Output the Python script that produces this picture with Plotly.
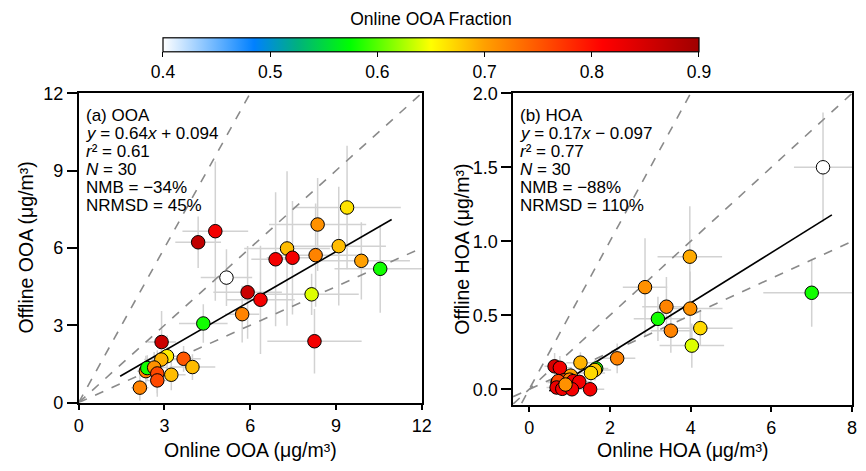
import plotly.graph_objects as go

# ---------------- data ----------------
# (a) OOA: online vs offline concentrations (ug/m3), uncertainties and online OOA fraction
ooa_online = [4.78, 4.18, 5.17, 4.36, 2.90, 3.09, 2.89, 3.67, 3.98, 2.35,
              2.40, 2.64, 2.75, 3.24, 2.75, 2.14, 9.39, 8.36, 7.29, 9.10,
              6.89, 7.48, 8.29, 9.89, 10.55, 5.91, 6.36, 5.72, 8.15, 8.25]
ooa_offline = [6.65, 6.22, 4.85, 3.07, 2.35, 1.80, 1.67, 1.70, 1.38, 1.22,
               1.34, 1.36, 1.13, 1.08, 0.86, 0.58, 7.57, 6.91, 5.98, 6.07,
               5.56, 5.62, 5.72, 5.50, 5.19, 4.28, 3.99, 3.43, 4.20, 2.38]
ooa_online_err = [1.15, 0.80, 0.90, 0.85, 0.50, 0.40, 0.60, 0.60, 0.80, 0.30,
                  0.30, 0.50, 0.40, 0.50, 0.40, 0.30, 1.88, 1.70, 1.50, 1.65,
                  0.85, 0.90, 1.50, 1.70, 1.60, 1.20, 1.20, 0.60, 1.65, 1.65]
ooa_offline_err = [2.70, 1.00, 1.10, 0.75, 1.20, 0.80, 0.90, 0.50, 0.50, 0.60,
                   0.50, 0.60, 0.90, 0.60, 0.50, 0.50, 2.40, 1.80, 3.00, 2.30,
                   2.60, 2.20, 2.00, 1.50, 1.70, 1.80, 2.10, 1.10, 0.80, 1.25]
ooa_frac = [0.82, 0.87, 0.40, 0.58, 0.86, 0.66, 0.69, 0.75, 0.685, 0.72,
            0.58, 0.71, 0.76, 0.685, 0.76, 0.72, 0.665, 0.71, 0.685, 0.685,
            0.82, 0.82, 0.72, 0.70, 0.58, 0.86, 0.82, 0.72, 0.64, 0.82]

# (b) HOA
hoa_online = [7.28, 3.98, 2.87, 3.40, 3.99, 3.19, 3.51, 4.24, 4.03, 7.00,
              2.18, 0.63, 0.76, 1.27, 1.66, 1.63, 1.53, 1.03, 0.70, 0.86,
              0.95, 1.00, 0.72, 1.09, 1.24, 0.68, 0.82, 1.06, 1.51, 0.90]
hoa_offline = [1.50, 0.896, 0.69, 0.558, 0.545, 0.476, 0.396, 0.413, 0.295, 0.652,
               0.209, 0.155, 0.145, 0.18, 0.14, 0.13, 0.11, 0.092, 0.045, 0.06,
               0.05, 0.065, 0.055, 0.055, 0.05, 0.012, 0.003, 0.0, 0.0, 0.032]
hoa_online_err = [0.72, 0.80, 0.55, 0.60, 0.80, 0.60, 0.50, 0.80, 0.80, 1.20,
                  0.45, 0.25, 0.30, 0.35, 0.30, 0.40, 0.35, 0.30, 0.25, 0.30,
                  0.30, 0.30, 0.25, 0.35, 0.30, 0.25, 0.30, 0.30, 0.35, 0.30]
hoa_offline_err = [0.37, 0.34, 0.33, 0.20, 0.25, 0.15, 0.15, 0.12, 0.15, 0.23,
                   0.10, 0.09, 0.08, 0.07, 0.06, 0.07, 0.06, 0.06, 0.05, 0.05,
                   0.05, 0.06, 0.05, 0.06, 0.05, 0.05, 0.04, 0.04, 0.05, 0.05]
hoa_frac = [0.40, 0.695, 0.71, 0.72, 0.71, 0.58, 0.72, 0.67, 0.64, 0.58,
            0.72, 0.85, 0.82, 0.69, 0.58, 0.68, 0.67, 0.70, 0.76, 0.76,
            0.72, 0.72, 0.76, 0.82, 0.82, 0.83, 0.82, 0.82, 0.82, 0.71]

# fits and reference lines
fit_a = dict(slope=0.64, intercept=0.094, x=[1.45, 10.95])
fit_b = dict(slope=0.17, intercept=-0.097, x=[0.5, 7.5])
ref_slopes_a = [2.0, 1.0, 0.5]
ref_slopes_b = [0.5, 0.25, 0.125]

stats_a = ["(a) OOA", "<i>y</i> = 0.64<i>x</i> + 0.094", "<i>r</i>² = 0.61",
           "<i>N</i> = 30", "NMB = −34%", "NRMSD = 45%"]
stats_b = ["(b) HOA", "<i>y</i> = 0.17<i>x</i> − 0.097", "<i>r</i>² = 0.77",
           "<i>N</i> = 30", "NMB = −88%", "NRMSD = 110%"]

cbar_ticks = [0.4, 0.5, 0.6, 0.7, 0.8, 0.9]

# ---------------- styling ----------------
W, H = 866, 471
FONT = "Arial, Liberation Sans, sans-serif"
ERR_COLOR = "#d2d2d2"
colorscale = [
    [0.00, "#ffffff"],
    [0.17, "#0080ff"],
    [0.25, "#00b080"],
    [0.35, "#00ff00"],
    [0.50, "#ffff00"],
    [0.60, "#ffa000"],
    [0.82, "#ff0000"],
    [1.00, "#a00000"],
]


def px_x(p):
    return p / W


def px_y(p):
    return 1 - p / H


fig = go.Figure()


def add_panel(xs, ys, xerr, yerr, frac, fit, slopes, xref, yref, xlim):
    # uncertainty bars underneath everything else
    fig.add_trace(go.Scatter(
        x=xs, y=ys, mode="markers", xaxis=xref, yaxis=yref,
        marker=dict(size=1, opacity=0),
        error_x=dict(type="data", array=xerr, color=ERR_COLOR, thickness=1.5, width=0),
        error_y=dict(type="data", array=yerr, color=ERR_COLOR, thickness=1.5, width=0),
        hoverinfo="skip", showlegend=False))
    # reference ratio lines through the origin
    for s in slopes:
        fig.add_trace(go.Scatter(
            x=[xlim[0], xlim[1]], y=[s * xlim[0], s * xlim[1]], mode="lines",
            xaxis=xref, yaxis=yref,
            line=dict(color="#8a8a8a", width=1.6, dash="dash"),
            hoverinfo="skip", showlegend=False))
    # least-squares fit
    fx = fit["x"]
    fig.add_trace(go.Scatter(
        x=fx, y=[fit["slope"] * v + fit["intercept"] for v in fx], mode="lines",
        xaxis=xref, yaxis=yref, line=dict(color="black", width=1.6),
        hoverinfo="skip", showlegend=False))
    # samples coloured by online OOA fraction
    fig.add_trace(go.Scatter(
        x=xs, y=ys, mode="markers", xaxis=xref, yaxis=yref,
        marker=dict(size=13.5, color=frac, coloraxis="coloraxis",
                    line=dict(color="black", width=1)),
        showlegend=False))


add_panel(ooa_online, ooa_offline, ooa_online_err, ooa_offline_err, ooa_frac,
          fit_a, ref_slopes_a, "x", "y", (0, 12))
add_panel(hoa_online, hoa_offline, hoa_online_err, hoa_offline_err, hoa_frac,
          fit_b, ref_slopes_b, "x2", "y2", (-0.4, 8))

axis_common = dict(showline=True, mirror=True, linecolor="black", linewidth=1.5,
                   showgrid=False, zeroline=False, ticks="outside",
                   tickcolor="black", tickwidth=1.5,
                   tickfont=dict(family=FONT, size=18, color="black"))

fig.update_layout(
    width=W, height=H,
    margin=dict(l=0, r=0, t=0, b=0),
    paper_bgcolor="white", plot_bgcolor="white",
    font=dict(family=FONT, color="black"),
    xaxis=dict(domain=[px_x(75), px_x(424)], range=[0, 12],
               tickvals=[0, 3, 6, 9, 12], ticklen=6, anchor="y", **axis_common),
    yaxis=dict(domain=[px_y(410), px_y(87)], range=[0, 12],
               tickvals=[0, 3, 6, 9, 12], ticklen=10, anchor="x", **axis_common),
    xaxis2=dict(domain=[px_x(517), px_x(862)], range=[-0.4, 8],
                tickvals=[0, 2, 4, 6, 8], ticklen=6, anchor="y2", **axis_common),
    yaxis2=dict(domain=[px_y(412), px_y(87)], range=[-0.103, 2.0],
                tickvals=[0, 0.5, 1.0, 1.5, 2.0], tickformat=".1f",
                ticklen=10, anchor="x2", **axis_common),
    coloraxis=dict(
        colorscale=colorscale, cmin=0.4, cmax=0.9,
        colorbar=dict(
            orientation="h",
            x=px_x((164 + 703) / 2), xanchor="center",
            y=px_y(76), yanchor="bottom",
            len=545 / W, lenmode="fraction",
            thickness=13.5, thicknessmode="pixels",
            xpad=0, ypad=0,
            outlinewidth=1.2, outlinecolor="black",
            tickvals=cbar_ticks, tickformat=".1f",
            ticks="outside", ticklen=5, tickcolor="black", tickwidth=1.2,
            tickfont=dict(family=FONT, size=17.5, color="black"),
            title=dict(text="Online OOA Fraction", side="top",
                       font=dict(family=FONT, size=17.5, color="black")),
        ),
    ),
)

annotations = []
# statistics text blocks, one annotation per line for tight line spacing
line_y = [110.5, 129, 148, 167, 185.5, 204]
for lines, x0 in ((stats_a, 81), (stats_b, 523)):
    for txt, yy in zip(lines, line_y):
        annotations.append(dict(
            text=txt, x=px_x(x0), y=px_y(yy), xref="paper", yref="paper",
            xanchor="left", yanchor="middle", showarrow=False, borderpad=0,
            font=dict(family=FONT, size=17, color="black")))

# axis titles
title_font = dict(family=FONT, size=19.5, color="black")
annotations += [
    dict(text="Online OOA (μg/m³)", x=px_x(249.5), y=px_y(459), xref="paper",
         yref="paper", xanchor="center", yanchor="middle", showarrow=False,
         font=title_font),
    dict(text="Online HOA (μg/m³)", x=px_x(689.5), y=px_y(459), xref="paper",
         yref="paper", xanchor="center", yanchor="middle", showarrow=False,
         font=title_font),
    dict(text="Offline OOA (μg/m³)", x=px_x(21), y=px_y(248.5), xref="paper",
         yref="paper", xanchor="center", yanchor="middle", showarrow=False,
         textangle=-90, font=title_font),
    dict(text="Offline HOA (μg/m³)", x=px_x(465), y=px_y(249.5), xref="paper",
         yref="paper", xanchor="center", yanchor="middle", showarrow=False,
         textangle=-90, font=title_font),
]
fig.update_layout(annotations=annotations)

fig.write_html("out.html")
